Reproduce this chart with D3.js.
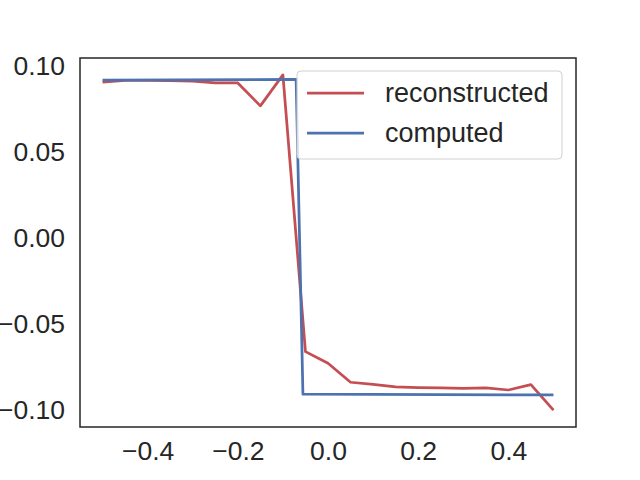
<!DOCTYPE html>
<html>
<head>
<meta charset="utf-8">
<script src="https://cdn.jsdelivr.net/npm/d3@7"></script>
<style>
  body { margin: 0; background: #fff; }
  text { font-family: "Liberation Sans", Arial, sans-serif; fill: #262626; }
</style>
</head>
<body>
<svg id="chart"></svg>
<script>
// data
var reconX = [-0.5, -0.45, -0.4, -0.35, -0.3, -0.25, -0.2, -0.15, -0.1, -0.05, 0,
  0.05, 0.1, 0.15, 0.2, 0.25, 0.3, 0.35, 0.4, 0.45, 0.5]
var reconY = [0.0905, 0.0915, 0.0915, 0.0914, 0.0911, 0.0900, 0.0900, 0.0767, 0.0947, -0.0661, -0.0729,
  -0.0839, -0.0851, -0.0866, -0.0870, -0.0872, -0.0874, -0.0872, -0.0884, -0.0853, -0.1001]
var compX = [-0.5, -0.0707, -0.0556, 0.5]
var compY = [0.0916, 0.0921, -0.0908, -0.0913]
var xTicks = [-0.4, -0.2, 0.0, 0.2, 0.4]
var yTicks = [-0.10, -0.05, 0.00, 0.05, 0.10]
var seriesNames = ["reconstructed", "computed"]
var seriesColors = ["#c44e52", "#4c72b0"]

var width = 640,
  height = 480
var margin = { left: 80, right: 64, top: 58, bottom: 53 }

var svg = d3.select("#chart")
  .attr("width", width)
  .attr("height", height)

var x = d3.scaleLinear()
  .domain([-0.55, 0.55])
  .range([margin.left, width - margin.right])

var y = d3.scaleLinear()
  .domain([-0.1099, 0.1045])
  .range([height - margin.bottom, margin.top])

// axes (no tick marks, seaborn white style)
var xAxis = svg.append("g")
  .attr("transform", "translate(0," + (height - margin.bottom) + ")")
  .call(d3.axisBottom(x).tickValues(xTicks).tickFormat(d3.format(".1f")).tickSize(0).tickPadding(14))
xAxis.select(".domain").remove()
xAxis.selectAll("text").style("font-size", "26.5px")

var yAxis = svg.append("g")
  .attr("transform", "translate(" + margin.left + ",0)")
  .call(d3.axisLeft(y).tickValues(yTicks).tickFormat(d3.format(".2f")).tickSize(0).tickPadding(15))
yAxis.select(".domain").remove()
yAxis.selectAll("text").style("font-size", "26.5px")

var line = d3.line()
  .x(function (d) { return x(d[0]) })
  .y(function (d) { return y(d[1]) })

var series = [
  d3.zip(reconX, reconY),
  d3.zip(compX, compY)
]

svg.selectAll("path.series")
  .data(series)
  .enter()
  .append("path")
  .attr("class", "series")
  .attr("d", line)
  .attr("fill", "none")
  .attr("stroke", function (d, i) { return seriesColors[i] })
  .attr("stroke-width", 2.75)
  .attr("stroke-linejoin", "round")

// frame
svg.append("rect")
  .attr("x", margin.left)
  .attr("y", margin.top)
  .attr("width", width - margin.left - margin.right)
  .attr("height", height - margin.top - margin.bottom)
  .attr("fill", "none")
  .attr("stroke", "#262626")
  .attr("stroke-width", 1.5)

// legend
var legend = svg.append("g")
  .attr("transform", "translate(297,71)")

legend.append("rect")
  .attr("width", 265)
  .attr("height", 88)
  .attr("rx", 4)
  .attr("fill", "#fff")
  .attr("fill-opacity", 0.8)
  .attr("stroke", "#d0d0d0")
  .attr("stroke-width", 1)

var item = legend.selectAll("g.item")
  .data(seriesNames)
  .enter()
  .append("g")
  .attr("class", "item")
  .attr("transform", function (d, i) { return "translate(0," + (22 + i * 40) + ")" })

item.append("line")
  .attr("x1", 10)
  .attr("x2", 67)
  .attr("stroke", function (d, i) { return seriesColors[i] })
  .attr("stroke-width", 2.75)

item.append("text")
  .attr("x", 88)
  .attr("dy", "0.35em")
  .style("font-size", "27px")
  .text(function (d) { return d })
</script>
</body>
</html>
